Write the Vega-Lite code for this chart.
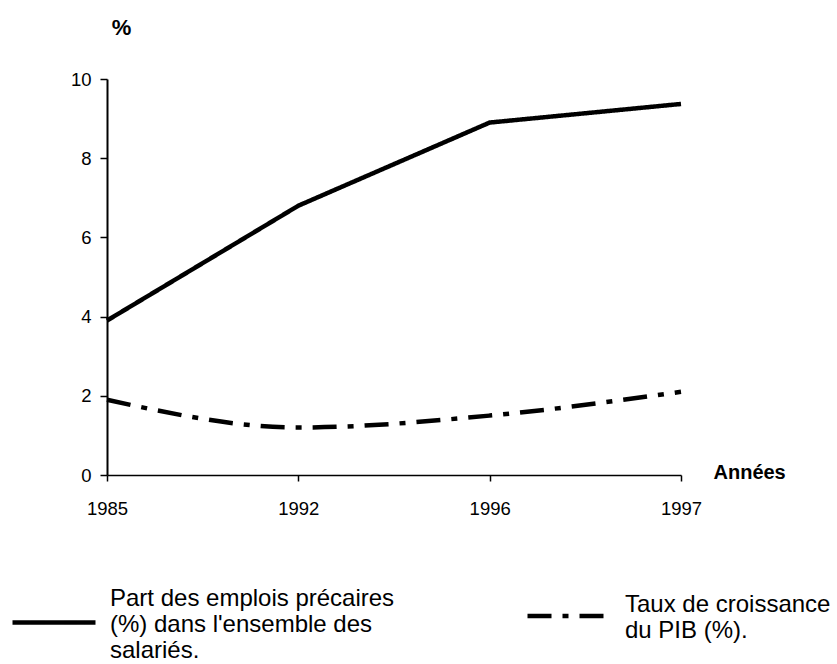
{
  "$schema": "https://vega.github.io/schema/vega-lite/v6.json",
  "width": 574,
  "height": 396,
  "autosize": {"type": "none"},
  "padding": {"left": 107, "top": 79, "right": 156, "bottom": 189},
  "background": "white",
  "config": {
    "view": {"stroke": null},
    "font": "Liberation Sans"
  },
  "data": {
    "values": [
      {"serie": "Part des  emplois précaires (%) dans l'ensemble des salariés.", "annee": "1985", "valeur": 3.9},
      {"serie": "Part des  emplois précaires (%) dans l'ensemble des salariés.", "annee": "1992", "valeur": 6.8},
      {"serie": "Part des  emplois précaires (%) dans l'ensemble des salariés.", "annee": "1996", "valeur": 8.9},
      {"serie": "Part des  emplois précaires (%) dans l'ensemble des salariés.", "annee": "1997", "valeur": 9.37},
      {"serie": "Taux de croissance du PIB (%).", "annee": "1985", "valeur": 1.9},
      {"serie": "Taux de croissance du PIB (%).", "annee": "1992", "valeur": 1.2},
      {"serie": "Taux de croissance du PIB (%).", "annee": "1996", "valeur": 1.5},
      {"serie": "Taux de croissance du PIB (%).", "annee": "1997", "valeur": 2.1}
    ]
  },
  "encoding": {
    "x": {
      "field": "annee",
      "type": "ordinal",
      "scale": {"type": "point", "padding": 0},
      "axis": {
        "title": "Années",
        "titleFont": "Liberation Sans",
        "titleFontSize": 20,
        "titleFontWeight": "bold",
        "titleColor": "black",
        "titleX": 606,
        "titleY": -3,
        "titleAlign": "left",
        "titleBaseline": "middle",
        "labelAngle": 0,
        "labelFont": "Liberation Sans",
        "labelFontSize": 18.5,
        "labelColor": "black",
        "labelPadding": 18,
        "labelBaseline": "top",
        "tickSize": 6,
        "tickColor": "black",
        "tickWidth": 1.5,
        "domainColor": "black",
        "domainWidth": 1.5,
        "grid": false
      }
    },
    "y": {
      "field": "valeur",
      "type": "quantitative",
      "scale": {"domain": [0, 10], "nice": false},
      "axis": {
        "values": [0, 2, 4, 6, 8, 10],
        "title": "%",
        "titleAngle": 0,
        "titleX": 14,
        "titleY": -52,
        "titleAlign": "center",
        "titleBaseline": "middle",
        "titleFont": "Liberation Sans",
        "titleFontSize": 22,
        "titleFontWeight": "bold",
        "titleColor": "black",
        "labelFont": "Liberation Sans",
        "labelFontSize": 18.5,
        "labelColor": "black",
        "labelPadding": 9,
        "tickSize": 7,
        "tickColor": "black",
        "tickWidth": 1.5,
        "domainColor": "black",
        "domainWidth": 2,
        "grid": false
      }
    },
    "strokeDash": {
      "field": "serie",
      "type": "nominal",
      "scale": {
        "domain": ["Part des  emplois précaires (%) dans l'ensemble des salariés.", "Taux de croissance du PIB (%)."],
        "range": [[1, 0], [24, 11, 6, 11]]
      },
      "legend": {
        "title": null,
        "orient": "none",
        "legendX": -97,
        "legendY": 493,
        "direction": "horizontal",
        "columns": 2,
        "columnPadding": 117,
        "padding": 0,
        "symbolType": "stroke",
        "symbolSize": 6889,
        "symbolStrokeWidth": 4.5,
        "symbolStrokeColor": "black",
        "labelFont": "Liberation Sans",
        "labelFontSize": 24,
        "labelColor": "black",
        "labelOffset": 12,
        "labelLimit": 0,
        "labelLineHeight": 23,
        "labelBaseline": "top",
        "labelExpr": "indexof(datum.label, 'Part') == 0 ? ['Part des  emplois précaires', \"(%) dans l'ensemble des\", 'salariés.'] : ['Taux de croissance', 'du PIB (%).', '']",
        "encode": {
          "labels": {
            "update": {
              "dy": {"signal": "indexof(datum.label, 'Part') == 0 ? -36 : -23"}
            }
          }
        }
      }
    }
  },
  "layer": [
    {
      "transform": [{"filter": "indexof(datum.serie, 'Part') == 0"}],
      "mark": {"type": "line", "color": "black", "strokeWidth": 4.5, "interpolate": "linear", "strokeCap": "butt"}
    },
    {
      "transform": [{"filter": "indexof(datum.serie, 'Taux') == 0"}],
      "mark": {"type": "line", "color": "black", "strokeWidth": 4.5, "interpolate": "monotone", "strokeCap": "butt"}
    }
  ]
}
